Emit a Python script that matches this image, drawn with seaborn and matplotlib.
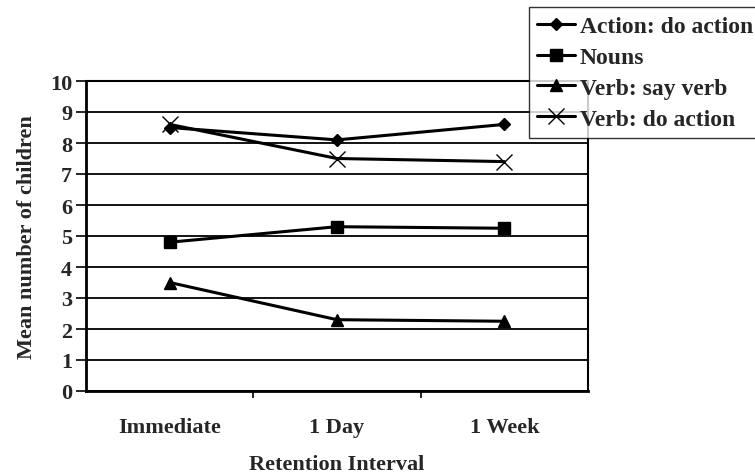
import matplotlib
matplotlib.use("Agg")
import matplotlib.pyplot as plt
import seaborn as sns
import pandas as pd

intervals = ["Immediate", "1 Day", "1 Week"]
action_do_action = [8.5, 8.1, 8.6]
nouns = [4.8, 5.3, 5.25]
verb_say_verb = [3.5, 2.3, 2.25]
verb_do_action = [8.6, 7.5, 7.4]
series_names = ["Action: do action", "Nouns", "Verb: say verb", "Verb: do action"]
yticks = list(range(0, 11))

sns.set_theme(style="white")
plt.rcParams['font.family'] = ['Liberation Serif', 'DejaVu Serif']
plt.rcParams['font.weight'] = 'bold'

fig = plt.figure(figsize=(7.55, 4.77), dpi=100)
ax = fig.add_axes([86/755, 1-392/477, (588-86)/755, (392-82)/477])

markers = {"Action: do action": "D", "Nouns": "s", "Verb: say verb": "^", "Verb: do action": "x"}
msizes = {"Action: do action": 6, "Nouns": 9, "Verb: say verb": 9, "Verb: do action": 12}

for name, vals in zip(series_names, [action_do_action, nouns, verb_say_verb, verb_do_action]):
    d = pd.DataFrame({"pos": list(range(len(intervals))), "value": vals})
    sns.lineplot(data=d, x="pos", y="value", ax=ax, color="black", label=name,
                 marker=markers[name], markersize=msizes[name],
                 markeredgecolor="black", markerfacecolor="black",
                 markeredgewidth=1.0, linewidth=2.2)

ax.set_xlim(-0.5, 2.5)
ax.set_ylim(0, 10)
ax.set_yticks(yticks)
ax.set_yticklabels([str(t) for t in yticks], fontsize=16, fontweight='bold')
ax.set_xticks(range(len(intervals)))
ax.set_xticklabels(intervals, fontsize=16, fontweight='bold')
ax.set_xticks([0.5, 1.5], minor=True)
ax.tick_params(axis='x', which='major', length=0, pad=19)
ax.tick_params(axis='x', which='minor', length=5, width=1.2, color='black', direction='out', bottom=True)
ax.tick_params(axis='y', which='major', length=7, width=1.2, color='black', direction='out', left=True, pad=3)
ax.grid(axis='y', color='black', linewidth=1.3)
ax.set_axisbelow(True)
for s in ax.spines.values():
    s.set_color('black')
    s.set_linewidth(1.5)
ax.spines['left'].set_linewidth(2)
ax.spines['bottom'].set_linewidth(2)

ax.set_xlabel("Retention Interval", fontsize=16, fontweight='bold', labelpad=12)
ax.set_ylabel("Mean number of children", fontsize=16, fontweight='bold', labelpad=9)

handles, labels = ax.get_legend_handles_labels()
if ax.get_legend() is not None:
    ax.get_legend().remove()
leg = fig.legend(handles, labels, loc='upper left', bbox_to_anchor=(529/755, 1-8/477),
                 frameon=True, fancybox=False, prop={'weight': 'bold', 'size': 17},
                 handlelength=1.6, handletextpad=0.2, labelspacing=0.4, borderpad=0.35,
                 borderaxespad=0)
leg.get_frame().set_edgecolor('black')
leg.get_frame().set_linewidth(1.0)

fig.savefig("out.png", dpi=100)
